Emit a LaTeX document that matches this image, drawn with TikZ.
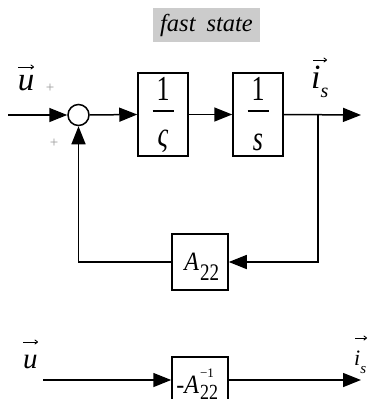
\documentclass[tikz,border=0pt]{standalone}
\usepackage{fontspec}
\usepackage{graphicx}
\setmainfont{Liberation Serif}
\usetikzlibrary{arrows.meta}
\newcommand{\tallt}[2][1.3]{\scalebox{1}[#1]{#2}}
\newcommand{\piece}[3][c]{\makebox[0pt][#1]{\raisebox{#2}{#3}}}
\tikzset{
  blk/.style={draw, line width=1.5pt, inner sep=0pt, fill=white},
  arr/.style={line width=1.5pt, -{Triangle[length=18pt,width=14pt]}},
  vecarr/.style={line width=0.9pt, -{To[length=3.5pt,width=5pt]}},
  sgn/.style={inner sep=0pt, text=black!40, font=\fontsize{15}{15}\selectfont}
}
\begin{document}
\begin{tikzpicture}[x=1pt,y=-1pt]
\useasboundingbox (0,0) rectangle (369,399);
\clip (0,0) rectangle (369,399);
% title
\node[fill=black!20, minimum width=107pt, minimum height=34pt, inner sep=0pt,
      font=\fontsize{24.5}{24.5}\selectfont\itshape] (title) at (206.5,25) {fast\hspace{11pt}state};
% upper loop
\node[circle, draw, line width=1.5pt, minimum size=21pt, inner sep=0pt] (sum) at (78.5,115) {};
\node[blk, minimum width=50pt, minimum height=83pt, font=\fontsize{26}{26}\selectfont] (g1) at (163,114.5)
  {\smash{\piece{14.5pt}{\tallt[1.35]{1}}\piece{2.8pt}{\rule{21pt}{1.4pt}}\piece{-31.5pt}{\tallt[1.35]{\itshape ς}}}};
\node[blk, minimum width=50pt, minimum height=83pt, font=\fontsize{26}{26}\selectfont] (g2) at (258,114.5)
  {\smash{\piece{14.5pt}{\tallt[1.35]{1}}\piece{2.8pt}{\rule{21pt}{1.4pt}}\piece{-35.5pt}{\tallt[1.35]{\itshape s}}}};
\node[blk, minimum width=56pt, minimum height=56pt] (a22) at (200,262)
  {\smash{\piece[r]{-8pt}{\fontsize{24}{24}\selectfont\tallt[1.1]{\itshape A}\hspace{1pt}}\piece[l]{-18pt}{\fontsize{19}{19}\selectfont\tallt[1.25]{22}}}};
\coordinate (in) at (8,115);
\coordinate (out) at (361,115);
\coordinate (br) at (318,115);
\coordinate (brd) at (318,262);
\coordinate (fbl) at (78.5,262);
\draw[arr] (in) -- (sum.west);
\draw[arr] (sum.east) -- (g1.west);
\draw[arr] (g1.east) -- (g2.west);
\draw[arr] (g2.east) -- (out);
\draw[arr] (br) -- (brd) -- (a22.east);
\draw[arr] (a22.west) -- (fbl) -- (sum.south);
% labels
\node[inner sep=0pt, anchor=base, font=\fontsize{33}{33}\selectfont\itshape] (u1) at (26,90) {u};
\draw[vecarr] ([xshift=-8pt,yshift=23pt]u1.base) -- ([xshift=8pt,yshift=23pt]u1.base);
\node[inner sep=0pt, anchor=base west, font=\fontsize{34}{34}\selectfont\itshape] (i1) at (311,88)
  {i\raisebox{-9pt}{\fontsize{20}{20}\selectfont s}};
\draw[vecarr] ([xshift=2pt,yshift=28pt]i1.base west) -- ([xshift=16pt,yshift=28pt]i1.base west);
\node[sgn] (p1) at (50,88) {+};
\node[sgn] (p2) at (54,143.5) {+};
% lower
\node[blk, minimum width=56pt, minimum height=60pt] (am) at (200,387)
  {\smash{\piece[r]{-6pt}{\fontsize{24}{24}\selectfont\tallt[1.1]{-\itshape A}\hspace{1pt}}\piece[l]{10pt}{\fontsize{13}{13}\selectfont −1}\piece[l]{-12pt}{\fontsize{18}{18}\selectfont\tallt[1.2]{22}}}};
\coordinate (uin) at (43,380);
\coordinate (uout) at (361,380);
\draw[arr] (uin) -- (am.west |- uin);
\draw[arr] (am.east |- uout) -- (uout);
\node[inner sep=0pt, anchor=base, font=\fontsize{29}{29}\selectfont\itshape] (u2) at (30.5,368) {u};
\draw[vecarr] ([xshift=-7.5pt,yshift=26pt]u2.base) -- ([xshift=7.5pt,yshift=26pt]u2.base);
\node[inner sep=0pt, anchor=base west, font=\fontsize{22}{22}\selectfont\itshape] (i2) at (354,365)
  {i\raisebox{-8pt}{\fontsize{15}{15}\selectfont s}};
\draw[vecarr] ([xshift=1pt,yshift=27pt]i2.base west) -- ([xshift=13pt,yshift=27pt]i2.base west);
\end{tikzpicture}
\end{document}
